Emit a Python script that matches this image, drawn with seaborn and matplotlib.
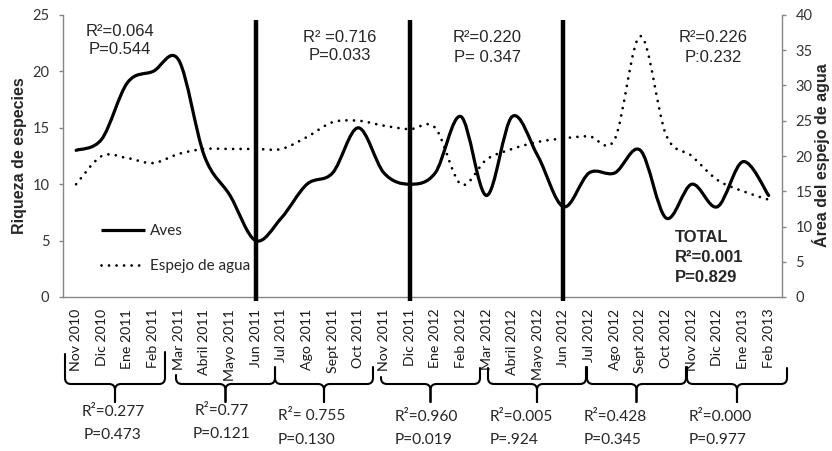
import numpy as np
import matplotlib
matplotlib.use("Agg")
import matplotlib.pyplot as plt
from matplotlib.path import Path
from matplotlib.patches import PathPatch
from matplotlib.lines import Line2D
import seaborn as sns

# ---------------- data ----------------
months = ["Nov 2010", "Dic 2010", "Ene 2011", "Feb 2011", "Mar 2011", "Abril 2011",
          "Mayo 2011", "Jun 2011", "Jul 2011", "Ago 2011", "Sept 2011", "Oct 2011",
          "Nov 2011", "Dic 2011", "Ene 2012", "Feb 2012", "Mar 2012", "Abril 2012",
          "Mayo 2012", "Jun 2012", "Jul 2012", "Ago 2012", "Sept 2012", "Oct 2012",
          "Nov 2012", "Dic 2012", "Ene 2013", "Feb 2013"]
aves = [13, 14, 19, 20, 21, 12.5, 9, 5, 7, 10, 11, 15, 11, 10, 11, 16, 9, 16,
        12.5, 8, 11, 11, 13, 7, 10, 8, 12, 9]
espejo = [16, 20, 19.7, 19, 20.3, 21, 21, 21, 21, 22.7, 24.8, 25, 24.3, 23.8, 24,
          16, 19.5, 21, 22, 22.5, 22.8, 22.4, 37, 23, 20, 16.6, 15, 13.8]
divider_months = ["Jun 2011", "Dic 2011", "Jun 2012"]

top_stats = ["R\u00b2=0.064\nP=0.544", "R\u00b2 =0.716\nP=0.033",
             "R\u00b2=0.220\nP= 0.347", "R\u00b2=0.226\nP:0.232"]
total_stats = "TOTAL\nR\u00b2=0.001\nP=0.829"
group_r2 = ["R\u00b2=0.277", "R\u00b2=0.77", "R\u00b2= 0.755", "R\u00b2=0.960",
            "R\u00b2=0.005", "R\u00b2=0.428", "R\u00b2=0.000"]
group_p = ["P=0.473", "P=0.121", "P=0.130", "P=0.019", "P=.924", "P=0.345", "P=0.977"]

# ---------------- style ----------------
sns.set_theme(style="white")
plt.rcParams["font.family"] = ["Liberation Sans", "DejaVu Sans"]
LATO = ["Lato", "DejaVu Sans"]
W, H = 832, 451
fig = plt.figure(figsize=(W / 100, H / 100), dpi=100)
L, R, T, B = 63.3, 781.5, 15, 297
ax = fig.add_axes([L / W, 1 - B / H, (R - L) / W, (B - T) / H])
ax2 = ax.twinx()


def fx(x):
    return x / W


def fy(y):
    return 1 - y / H


def smooth_path(xs, ys):
    """Excel-like smoothed line: cubic Bezier through every data point."""
    pts = np.column_stack([np.asarray(xs, float), np.asarray(ys, float)])
    n = len(pts)
    verts = [pts[0]]
    codes = [Path.MOVETO]
    for i in range(n - 1):
        p0 = pts[i - 1] if i > 0 else pts[i]
        p1, p2 = pts[i], pts[i + 1]
        p3 = pts[i + 2] if i + 2 < n else pts[i + 1]
        verts += [p1 + (p2 - p0) / 6, p2 - (p3 - p1) / 6, p2]
        codes += [Path.CURVE4] * 3
    return Path(verts, codes)


xpos = np.arange(len(months))
ax.add_patch(PathPatch(smooth_path(xpos, aves), fill=False, lw=2.3,
                       edgecolor="black", capstyle="round", joinstyle="round", zorder=4))
ax2.add_patch(PathPatch(smooth_path(xpos, espejo), fill=False, lw=2.0,
                        edgecolor="black", linestyle=(0, (0.01, 2.7)),
                        capstyle="round", zorder=4))

# axes limits and ticks
ax.set_xlim(-0.5, len(months) - 0.5)
ax.set_ylim(0, 25)
ax2.set_ylim(0, 40)
ax.set_yticks(np.arange(0, 26, 5))
ax2.set_yticks(np.arange(0, 41, 5))
ax.set_xticks(np.arange(-0.5, len(months), 1))
ax.set_xticklabels([])
ax.set_xticks(xpos, minor=True)
ax.set_xticklabels(months, minor=True, rotation=90, fontfamily=LATO, fontsize=10.2,
                   color="#1a1a1a")
ax.tick_params(axis="x", which="major", length=4, width=1, color="#868686", direction="out")
ax.tick_params(axis="x", which="minor", length=0, pad=8.5)
ax.tick_params(axis="y", length=3, width=1, color="#868686", direction="out", pad=7,
               labelsize=10.5, labelcolor="#333333")
ax2.tick_params(axis="y", length=3, width=1, color="#868686", direction="out", pad=7,
                labelsize=10.5, labelcolor="#333333")
for a in (ax, ax2):
    for lab in a.get_yticklabels():
        lab.set_fontfamily(LATO)
    a.grid(False)
    a.set_facecolor("none")
    a.spines["top"].set_visible(False)
    for s in ("left", "right", "bottom"):
        a.spines[s].set_color("#868686")
        a.spines[s].set_linewidth(1)
ax.spines["right"].set_visible(False)
ax2.spines["left"].set_visible(False)
ax2.spines["bottom"].set_visible(False)

# divider lines
div_idx = [months.index(m) for m in divider_months]
ax.vlines(div_idx, -0.33, 24.55, colors="black", lw=3.2, clip_on=False, zorder=6)

# axis labels
fig.text(fx(20), fy(156), "Riqueza de especies", rotation=90, ha="center", va="center",
         fontsize=11.5, fontweight="bold")
fig.text(fx(812), fy(155), "\u00c1rea del espejo de agua", rotation=90, ha="left",
         va="center", fontsize=11.5, fontweight="bold")

# top statistics
top_pos = [(120, 32, 49), (340, 38, 56), (487, 38, 57), (713, 38, 57)]
for txt, (x, y1, y2) in zip(top_stats, top_pos):
    l1, l2 = txt.split("\n")
    fig.text(fx(x), fy(y1), l1, ha="center", va="center", fontsize=12)
    fig.text(fx(x), fy(y2), l2, ha="center", va="center", fontsize=12)
for line, y in zip(total_stats.split("\n"), (237, 257, 277)):
    fig.text(fx(675), fy(y), line, ha="left", va="center", fontsize=12, fontweight="bold")

# legend
handles = [Line2D([], [], color="black", lw=2.3, solid_capstyle="butt"),
           Line2D([], [], color="black", lw=2.0, linestyle=(0, (0.01, 2.7)),
                  dash_capstyle="round")]
leg = ax.legend(handles, ["Aves", "Espejo de agua"], loc="upper left",
                bbox_to_anchor=(fx(101), fy(224)), bbox_transform=fig.transFigure,
                frameon=False, handlelength=2.9, handletextpad=0.3, labelspacing=1.4,
                borderpad=0, borderaxespad=0, prop={"family": LATO, "size": 11})

# braces below the axis
braces = [(65, 165, 354, 352), (176, 275, 375, 368), (275, 373, 367, 367),
          (381, 480, 377, 368), (488, 586, 368, 367), (587, 686, 367, 367),
          (687, 787, 367, 368)]
ybar, ytip, r = 384, 402, 6
for x0, x1, t0, t1 in braces:
    xc = (x0 + x1) / 2
    for xs, ts, sgn in ((x0, t0, 1), (x1, t1, -1)):
        verts = [(xs, ts), (xs, ybar - r), (xs, ybar), (xs + sgn * r, ybar),
                 (xc - sgn * r, ybar), (xc, ybar), (xc, ybar + r), (xc, ytip)]
        codes = [Path.MOVETO, Path.LINETO, Path.CURVE3, Path.CURVE3,
                 Path.LINETO, Path.CURVE3, Path.CURVE3, Path.LINETO]
        p = Path([(fx(a), fy(b)) for a, b in verts], codes)
        fig.add_artist(PathPatch(p, fill=False, lw=1.5, edgecolor="black",
                                 transform=fig.transFigure, capstyle="round"))

group_pos = [(113, "center", 412, 435), (222, "center", 411, 434),
             (278, "left", 416, 440), (395, "left", 417, 440), (490, "left", 417, 440),
             (584, "left", 417, 440), (689, "left", 417, 440)]
for r2, pv, (x, ha, y1, y2) in zip(group_r2, group_p, group_pos):
    fig.text(fx(x), fy(y1), r2, ha=ha, va="center", fontfamily=LATO, fontsize=11.2)
    fig.text(fx(x), fy(y2), pv, ha=ha, va="center", fontfamily=LATO, fontsize=11.2)

fig.savefig("out.png", dpi=100)
